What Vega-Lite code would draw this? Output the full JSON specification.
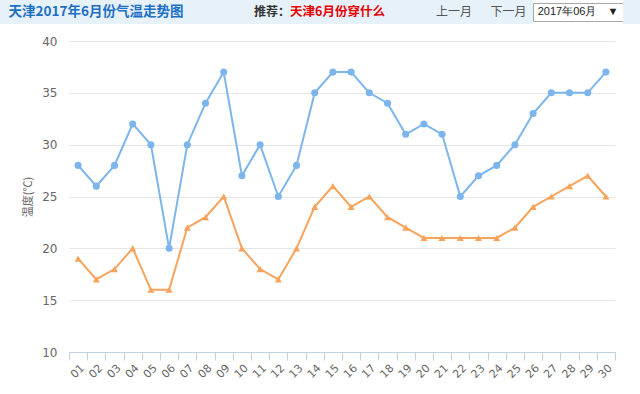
{
  "$schema": "https://vega.github.io/schema/vega-lite/v6.json",
  "background": "white",
  "padding": 0,
  "spacing": 11,
  "config": {
    "view": {"stroke": null},
    "font": "Noto Sans CJK SC",
    "concat": {"spacing": 0}
  },
  "datasets": {
    "temps": [
      {"day": "01", "high": 28, "low": 19},
      {"day": "02", "high": 26, "low": 17},
      {"day": "03", "high": 28, "low": 18},
      {"day": "04", "high": 32, "low": 20},
      {"day": "05", "high": 30, "low": 16},
      {"day": "06", "high": 20, "low": 16},
      {"day": "07", "high": 30, "low": 22},
      {"day": "08", "high": 34, "low": 23},
      {"day": "09", "high": 37, "low": 25},
      {"day": "10", "high": 27, "low": 20},
      {"day": "11", "high": 30, "low": 18},
      {"day": "12", "high": 25, "low": 17},
      {"day": "13", "high": 28, "low": 20},
      {"day": "14", "high": 35, "low": 24},
      {"day": "15", "high": 37, "low": 26},
      {"day": "16", "high": 37, "low": 24},
      {"day": "17", "high": 35, "low": 25},
      {"day": "18", "high": 34, "low": 23},
      {"day": "19", "high": 31, "low": 22},
      {"day": "20", "high": 32, "low": 21},
      {"day": "21", "high": 31, "low": 21},
      {"day": "22", "high": 25, "low": 21},
      {"day": "23", "high": 27, "low": 21},
      {"day": "24", "high": 28, "low": 21},
      {"day": "25", "high": 30, "low": 22},
      {"day": "26", "high": 33, "low": 24},
      {"day": "27", "high": 35, "low": 25},
      {"day": "28", "high": 35, "low": 26},
      {"day": "29", "high": 35, "low": 27},
      {"day": "30", "high": 37, "low": 25}
    ]
  },
  "vconcat": [
    {
      "bounds": "flush",
      "center": true,
      "spacing": 0,
      "hconcat": [
        {
          "width": 192, "height": 24,
          "view": {"fill": "#e6f1fa", "stroke": null},
          "data": {"values": [{"t": "天津2017年6月份气温走势图"}]},
          "mark": {"type": "text", "fontSize": 13.5, "fontWeight": "bold", "color": "#1d6fc4", "baseline": "middle"},
          "encoding": {"text": {"field": "t"}}
        },
        {
          "width": 196, "height": 24,
          "view": {"fill": "#e6f1fa", "stroke": null},
          "layer": [
            {
              "data": {"values": [{"t": "推荐："}]},
              "mark": {"type": "text", "fontSize": 12, "fontWeight": "bold", "color": "#333333", "align": "right", "baseline": "middle"},
              "encoding": {"text": {"field": "t"}}
            },
            {
              "data": {"values": [{"t": "天津6月份穿什么"}]},
              "mark": {"type": "text", "fontSize": 12.5, "fontWeight": "bold", "color": "#e60000", "align": "left", "baseline": "middle"},
              "encoding": {"text": {"field": "t"}}
            }
          ]
        },
        {
          "width": 96, "height": 24,
          "view": {"fill": "#e6f1fa", "stroke": null},
          "data": {"values": [{"t": "上一月"}]},
          "mark": {"type": "text", "fontSize": 12, "color": "#555555", "align": "left", "baseline": "middle"},
          "encoding": {"text": {"field": "t"}}
        },
        {
          "width": 49, "height": 24,
          "view": {"fill": "#e6f1fa", "stroke": null},
          "data": {"values": [{"t": "下一月"}]},
          "mark": {"type": "text", "fontSize": 12, "color": "#555555", "baseline": "middle"},
          "encoding": {"text": {"field": "t"}}
        },
        {
          "width": 90, "height": 18,
          "view": {"fill": "white", "stroke": "#a8a8a8"},
          "data": {"values": [{"t": "2017年06月　▼"}]},
          "mark": {"type": "text", "fontSize": 11, "font": "Liberation Sans", "color": "#222222", "baseline": "middle"},
          "encoding": {"text": {"field": "t"}}
        },
        {
          "width": 17, "height": 24,
          "view": {"fill": "#e6f1fa", "stroke": null},
          "data": {"values": []},
          "mark": "text"
        }
      ]
    },
    {
      "spacing": 0,
      "hconcat": [
        {
          "width": 22, "height": 10,
          "data": {"values": []},
          "mark": "text"
        },
        {
          "width": 546, "height": 311,
          "data": {"name": "temps"},
          "transform": [{"fold": ["high", "low"], "as": ["series", "temp"]}],
          "encoding": {
            "x": {
              "field": "day", "type": "ordinal", "bandPosition": 0.5,
              "scale": {"type": "band", "paddingInner": 0, "paddingOuter": 0},
              "axis": {
                "title": null, "grid": false, "tickBand": "extent",
                "domainColor": "#c0d0e0", "tickColor": "#c0d0e0", "tickSize": 8,
                "labelAngle": -45, "labelColor": "#666666", "labelFontSize": 11,
                "labelFont": "DejaVu Sans", "labelPadding": 2
              }
            },
            "y": {
              "field": "temp", "type": "quantitative",
              "scale": {"domain": [10, 40], "nice": false, "zero": false},
              "axis": {
                "title": "温度(℃)", "values": [10, 15, 20, 25, 30, 35, 40],
                "grid": true, "gridColor": "#e6e6e6", "domain": false, "ticks": false,
                "labelColor": "#666666", "labelFontSize": 12, "labelFont": "DejaVu Sans", "labelPadding": 12,
                "titleColor": "#666666", "titleFontSize": 11, "titleFontWeight": "normal", "titlePadding": 8
              }
            },
            "color": {
              "field": "series", "type": "nominal",
              "scale": {"domain": ["high", "low"], "range": ["#7cb5ec", "#f7a35c"]},
              "legend": null
            }
          },
          "layer": [
            {"mark": {"type": "line", "strokeWidth": 2}},
            {
              "mark": {"type": "point", "filled": true, "size": 50, "opacity": 1},
              "encoding": {
                "shape": {
                  "field": "series", "type": "nominal",
                  "scale": {"domain": ["high", "low"], "range": ["circle", "triangle-up"]},
                  "legend": null
                }
              }
            }
          ]
        }
      ]
    }
  ]
}
